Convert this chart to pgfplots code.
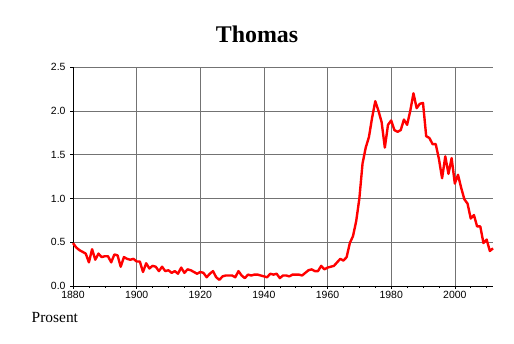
\documentclass[border=0pt]{standalone}
\usepackage{pgfplots}
\pgfplotsset{compat=1.18}
\usepackage{fontspec}
\setmainfont{Liberation Serif}
\newfontfamily\ticksfont{Liberation Sans}
\begin{document}
\begin{tikzpicture}[x=1bp,y=1bp]
\path[use as bounding box] (0,0) rectangle (514,343);
\begin{axis}[
  at={(73bp,57bp)}, anchor=south west,
  scale only axis, width=420bp, height=219bp,
  xmin=1880, xmax=2012, ymin=0, ymax=2.5,
  axis lines*=left,
  xtick={1880,1900,...,2000},
  minor xtick={1885,1890,...,2010},
  ytick={0,0.5,...,2.5},
  tick align=outside,
  major tick length=3bp, minor tick length=2bp,
  xmajorgrids, ymajorgrids,
  grid style={black!55, line width=0.6pt},
  axis line style={black, line width=0.5pt},
  every tick/.style={black, line width=0.5pt},
  tick label style={font=\ticksfont\fontsize{10.5}{12}\selectfont},
  /pgf/number format/assume math mode=true,
  yticklabel style={/pgf/number format/fixed, /pgf/number format/fixed zerofill, /pgf/number format/precision=1, xshift=-1bp},
  xticklabel style={/pgf/number format/set thousands separator={}, yshift=1bp},
  clip=false,
]
\addplot[red, line width=2.4pt, line join=round] table {
1880 0.49
1881 0.44
1882 0.41
1883 0.39
1884 0.37
1885 0.27
1886 0.42
1887 0.30
1888 0.37
1889 0.33
1890 0.34
1891 0.34
1892 0.27
1893 0.36
1894 0.35
1895 0.22
1896 0.33
1897 0.31
1898 0.30
1899 0.31
1900 0.28
1901 0.28
1902 0.16
1903 0.26
1904 0.20
1905 0.23
1906 0.22
1907 0.17
1908 0.22
1909 0.17
1910 0.18
1911 0.15
1912 0.17
1913 0.14
1914 0.21
1915 0.15
1916 0.19
1917 0.18
1918 0.16
1919 0.14
1920 0.16
1921 0.15
1922 0.10
1923 0.14
1924 0.17
1925 0.10
1926 0.07
1927 0.11
1928 0.12
1929 0.12
1930 0.12
1931 0.10
1932 0.17
1933 0.12
1934 0.09
1935 0.13
1936 0.12
1937 0.13
1938 0.13
1939 0.12
1940 0.11
1941 0.10
1942 0.14
1943 0.13
1944 0.14
1945 0.09
1946 0.12
1947 0.12
1948 0.11
1949 0.13
1950 0.13
1951 0.13
1952 0.12
1953 0.15
1954 0.18
1955 0.19
1956 0.17
1957 0.17
1958 0.23
1959 0.19
1960 0.21
1961 0.22
1962 0.23
1963 0.27
1964 0.31
1965 0.29
1966 0.33
1967 0.49
1968 0.57
1969 0.74
1970 1.00
1971 1.40
1972 1.58
1973 1.70
1974 1.92
1975 2.11
1976 2.00
1977 1.87
1978 1.58
1979 1.84
1980 1.89
1981 1.78
1982 1.76
1983 1.78
1984 1.90
1985 1.84
1986 2.00
1987 2.20
1988 2.03
1989 2.08
1990 2.09
1991 1.71
1992 1.69
1993 1.62
1994 1.62
1995 1.45
1996 1.23
1997 1.48
1998 1.28
1999 1.46
2000 1.17
2001 1.27
2002 1.12
2003 0.99
2004 0.94
2005 0.77
2006 0.81
2007 0.68
2008 0.68
2009 0.49
2010 0.53
2011 0.40
2012 0.43
};
\end{axis}
\node[anchor=base, font=\fontsize{24}{28}\selectfont\bfseries] at (257,301) {Thomas};
\node[anchor=base west, inner sep=0pt, font=\fontsize{15.5}{18}\selectfont] at (31.5,21) {Prosent};
\end{tikzpicture}
\end{document}
